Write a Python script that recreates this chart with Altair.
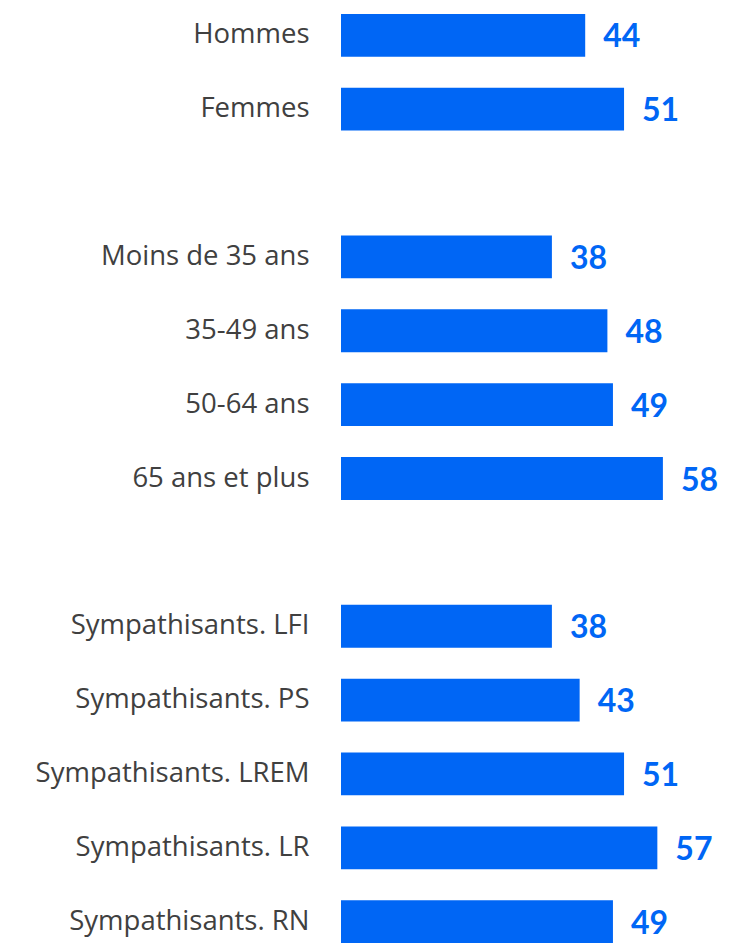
import altair as alt
import pandas as pd

categories = ["Hommes", "Femmes", " ", "Moins de 35 ans", "35-49 ans", "50-64 ans",
              "65 ans et plus", "  ", "Sympathisants. LFI", "Sympathisants. PS",
              "Sympathisants. LREM", "Sympathisants. LR", "Sympathisants. RN"]
values = [44, 51, None, 38, 48, 49, 58, None, 38, 43, 51, 57, 49]

df = pd.DataFrame({"cat": categories, "val": values})
bars_df = df.dropna()

BLUE = "#0066F5"
y = alt.Y("cat:N", sort=categories, title=None,
          scale=alt.Scale(domain=categories, paddingInner=0.42, paddingOuter=0.08),
          axis=alt.Axis(domain=False, ticks=False, labelPadding=32, labelFontSize=27.5,
                        labelFont="Open Sans", labelColor="#404040", labelLimit=400))
x = alt.X("val:Q", title=None, scale=alt.Scale(domain=[0, 70]), axis=None)

base = alt.Chart(bars_df)
bars = base.mark_bar(color=BLUE).encode(x=x, y=y)
text = base.mark_text(align="left", baseline="middle", dx=18, dy=2, font="Lato",
                      fontSize=32, fontWeight="bold", color=BLUE).encode(
    x=x, y=y, text=alt.Text("val:Q", format="d"))

chart = (bars + text).properties(
    width=388.5, height=941,
    autosize=alt.AutoSizeParams(type="none"),
    padding={"left": 333, "top": 0, "right": 0, "bottom": 0},
).configure_view(stroke=None)

chart.save("out.html", embed_options={"renderer": "svg", "actions": False})
